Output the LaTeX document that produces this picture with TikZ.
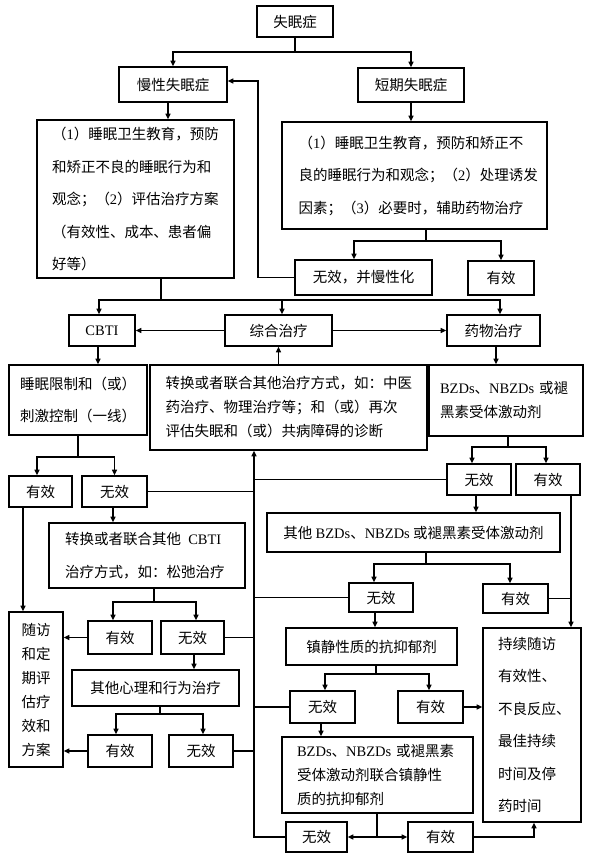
\documentclass[tikz,border=0pt]{standalone}
\usepackage{fontspec}
\setmainfont{Noto Sans CJK SC}
\newfontfamily\lat{Liberation Serif}
\usetikzlibrary{arrows.meta}

\begin{document}
\begin{tikzpicture}[x=1pt,y=-1pt,line width=1.6pt,>={Triangle[length=5.5pt,width=5pt]},
	box/.style={draw,inner sep=0pt,align=center,font=\fontsize{14.5}{24}\selectfont},
	loose/.style={font=\fontsize{14.5}{32.5}\selectfont}] % schéma de prise en charge

\useasboundingbox (0,0) rectangle (591,862);

\node[box,minimum width=76,minimum height=31] (insom) at (295,21.5) {失眠症};
\node[box,minimum width=108,minimum height=35] (chron) at (173,84.5) {慢性失眠症};
\node[box,minimum width=106,minimum height=34] (short) at (411,85) {短期失眠症};
\node[box,loose,align=left,text width=167,minimum width=197,minimum height=158] (chronTx) at (135.5,199)
	{（{\lat 1}）睡眠卫生教育，预防\\和矫正不良的睡眠行为和\\观念；（{\lat 2}）评估治疗方案\\（有效性、成本、患者偏\\好等）};
\node[box,loose,align=left,text width=232,minimum width=265,minimum height=107] (shortTx) at (414.5,175.5)
	{（{\lat 1}）睡眠卫生教育，预防和矫正不\\良的睡眠行为和观念；（{\lat 2}）处理诱发\\因素；（{\lat 3}）必要时，辅助药物治疗};
\node[box,minimum width=137,minimum height=35] (noChron) at (363.5,277.5) {无效，并慢性化};
\node[box,minimum width=66,minimum height=34] (okShort) at (501,278) {有效};

\node[box,minimum width=66,minimum height=31] (cbti) at (102,330.5) {\lat CBTI};
\node[box,minimum width=107,minimum height=31] (combo) at (278.5,330.5) {综合治疗};
\node[box,minimum width=93,minimum height=31] (drug) at (493.5,330.5) {药物治疗};

\node[box,loose,minimum width=138,minimum height=70] (srsc) at (78,400) {睡眠限制和（或）\\刺激控制（一线）};
\node[box,align=left,text width=246,minimum width=277,minimum height=85] (alt) at (288.5,407.5)
	{转换或者联合其他治疗方式，如：中医\\药治疗、物理治疗等；和（或）再次\\评估失眠和（或）共病障碍的诊断};
\node[box,align=left,text width=132,minimum width=154,minimum height=71] (bzd) at (506,400.5)
	{{\lat BZDs}、{\lat NBZDs} 或褪\\黑素受体激动剂};

\node[box,loose,align=left,text width=164,minimum width=196,minimum height=65] (cbti2) at (147,555.5)
	{转换或者联合其他\hspace{0.5em}{\lat CBTI}\\治疗方式，如：松弛治疗};
\node[box,minimum width=293,minimum height=39] (bzd2) at (413.5,532.5) {其他 {\lat BZDs}、{\lat NBZDs} 或褪黑素受体激动剂};
\node[box,minimum width=54,minimum height=155] (follow) at (36,689.5) {随访\\和定\\期评\\估疗\\效和\\方案};
\node[box,minimum width=171,minimum height=37] (sed) at (371.5,646.5) {镇静性质的抗抑郁剂};
\node[box,minimum width=167,minimum height=36] (psy) at (155.5,688) {其他心理和行为治疗};
\node[box,loose,align=left,text width=68,minimum width=98,minimum height=194] (keep) at (532,725)
	{持续随访\\有效性、\\不良反应、\\最佳持续\\时间及停\\药时间};
\node[box,align=left,text width=161,minimum width=191,minimum height=76] (mix) at (377.5,775)
	{{\lat BZDs}、{\lat NBZDs} 或褪黑素\\受体激动剂联合镇静性\\质的抗抑郁剂};

\foreach \nom/\x/\y/\w/\h/\t in {ok1/40.5/491.5/63/31/有效, no1/114.5/491.5/65/31/无效,
	dno1/479/479.5/64/31/无效, dok1/548/479.5/64/31/有效, ok2/120/637.5/64/33/有效,
	no2/192.5/637.5/63/33/无效, dno2/381/597.5/64/29/无效, dok2/515.5/598.5/65/29/有效,
	ok3/120/751/64/32/有效, no3/201/751/64/32/无效, dno3/322.5/707/65/32/无效,
	dok3/430.5/707/65/32/有效, dno4/316.5/837/61/30/无效, dok4/440.5/837/65/30/有效} % petites cases
{
	\node[box,minimum width=\w,minimum height=\h] (\nom) at (\x,\y) {\t};
}

% haut du schéma
\coordinate (j0) at (295,52);
\draw (insom) -- (j0);
\draw[->] (j0) -| (chron.north);
\draw[->] (j0) -| (short.north);
\draw[->] ([xshift=-5]chron.south) -- ([xshift=-5]chron.south |- chronTx.north);
\draw[->] (short) -- (short |- shortTx.north);
\coordinate (j1) at (426,241);
\draw (shortTx.south -| j1) -- (j1);
\draw[->] (j1) -| ([xshift=-9.5]noChron.north);
\draw[->] (j1) -| (okShort.north);
\draw[->] (noChron.west) -- ++(-36,0) |- ([yshift=3.5]chron.east);

\coordinate (j2) at (161,300);
\draw (chronTx.south -| j2) -- (j2);
\draw[->] (j2) -| ([xshift=-3]cbti.north);
\draw[->] (j2) -| ([xshift=3.5]combo.north);
\draw[->] (j2) -| ([xshift=6.5]drug.north);
\draw[->] (combo) -- (cbti);
\draw[->] (combo) -- (drug);
\draw[->] ([xshift=-4]cbti.south) -- ([xshift=-4]cbti.south |- srsc.north);
\draw[->] (combo.south |- alt.north) -- (combo.south);
\draw[->] ([xshift=2.5]drug.south) -- ([xshift=2.5]drug.south |- bzd.north);

% branche CBTI
\coordinate (j3) at (78,457);
\draw (srsc) -- (j3);
\draw[->] (j3) -| ([xshift=-3.5]ok1.north);
\draw[->] (j3) -| (no1.north);
\draw[->] ([xshift=-17.5]ok1.south) -- ([xshift=-17.5]ok1.south |- follow.north);
\draw[->] ([xshift=-1.5]no1.south) -- ([xshift=-1.5]no1.south |- cbti2.north);
\coordinate (j4) at (154,602);
\draw (cbti2.south -| j4) -- (j4);
\draw[->] (j4) -| ([xshift=-7]ok2.north);
\draw[->] (j4) -| ([xshift=3.5]no2.north);
\draw[->] (ok2) -- (ok2 -| follow.east);
\draw[->] ([xshift=1.5]no2.south) -- ([xshift=1.5]no2.south |- psy.north);
\coordinate (j5) at (160,714);
\draw (psy.south -| j5) -- (j5);
\draw[->] (j5) -| ([xshift=-4]ok3.north);
\draw[->] (j5) -| ([xshift=2]no3.north);
\draw[->] (ok3) -- (ok3 -| follow.east);

% branche médicaments
\coordinate (j6) at (508,447);
\draw (bzd.south -| j6) -- (j6);
\draw[->] (j6) -| ([xshift=-7]dno1.north);
\draw[->] (j6) -| ([xshift=-2]dok1.north);
\draw[->] ([xshift=-3]dno1.south) -- ([xshift=-3]dno1.south |- bzd2.north);
\coordinate (j7) at (426,564);
\draw (bzd2.south -| j7) -- (j7);
\draw[->] (j7) -| ([xshift=-7]dno2.north);
\draw[->] (j7) -| ([xshift=-5.5]dok2.north);
\draw[->] ([xshift=23]dok1.south) -- ([xshift=23]dok1.south |- keep.north);
\draw (dok2.east) -- ([xshift=23]dok1.south |- dok2.east);
\draw[->] ([xshift=-6]dno2.south) -- ([xshift=-6]dno2.south |- sed.north);
\coordinate (j8) at (376,674);
\draw (sed.south -| j8) -- (j8);
\draw[->] (j8) -| ([xshift=2.5]dno3.north);
\draw[->] (j8) -| ([xshift=-1.5]dok3.north);
\draw[->] (dok3) -- (dok3 -| keep.west);
\draw[->] ([xshift=-1.5]dno3.south) -- ([xshift=-1.5]dno3.south |- mix.north);
\coordinate (j9) at (377,837);
\draw (mix.south -| j9) -- (j9);
\draw[->] (j9) -- (dno4);
\draw[->] (j9) -- (dok4);
\draw[->] (dok4) -| ([xshift=2]keep.south);

% retour vers la réévaluation
\path (alt.south) ++(-34.5,0) coordinate (tk);
\draw[->] (dno4) -| (tk);
\foreach \n in {no1,no2,no3} \draw (\n) -- (\n -| tk);
\foreach \n in {dno1,dno2,dno3} \draw (\n) -- (\n -| tk);

\end{tikzpicture}
\end{document}
